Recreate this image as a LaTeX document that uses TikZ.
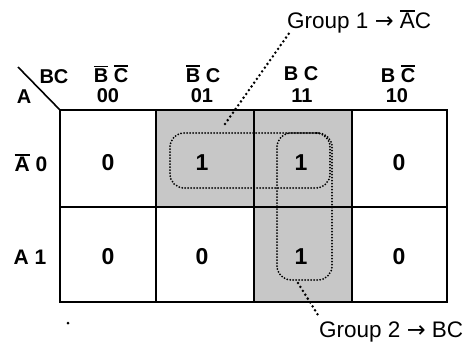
\documentclass[tikz,border=0pt]{standalone}
\usepackage{fontspec}
\setmainfont{Liberation Sans}
\newfontfamily\arrfont{DejaVu Sans}
\newcommand\ovl[1]{\setbox0\hbox{#1}\rlap{\rule[\dimexpr\ht0+1.6pt\relax]{\wd0}{1.5pt}}\box0\relax}
\newcommand\arr{{\arrfont →}}
\begin{document}
\begin{tikzpicture}[x=1pt,y=-1pt,
  lbl/.style={font=\bfseries\fontsize{20}{22}\selectfont, inner sep=0pt},
  cellv/.style={font=\bfseries\fontsize{23}{25}\selectfont, inner sep=0pt},
  grp/.style={font=\fontsize{22.5}{24}\selectfont, inner sep=0pt},
  loop/.style={draw, rounded corners=14pt, line width=2pt, dash pattern=on 0pt off 3pt, line cap=round, inner sep=0pt},
  leader/.style={line width=2.8pt, dash pattern=on 0pt off 4.6pt, line cap=round},
  shade/.style={fill=black!22}]
\useasboundingbox (0,0) rectangle (475,348);
% shading
\fill[shade] (156,110) rectangle (254,207);
\fill[shade] (254,110) rectangle (352,302);
% grid
\draw[line width=1.8pt] (60,207) -- (447,207);
\draw[line width=1.8pt] (156,110) -- (156,302);
\draw[line width=1.8pt] (254,110) -- (254,302);
\draw[line width=1.8pt] (352,110) -- (352,302);
\draw[line width=2.6pt] (156,110) -- (352,110) (352,110) -- (352,302) (254,302) -- (352,302);
\draw[line width=2.6pt] (60,110) rectangle (447,302);
\draw[line width=1.6pt] (18,67) -- (60,110);
% corner labels
\node[lbl] (bc) at (54,77) {BC};
\node[lbl] (a) at (24,97) {A};
% column headers
\node[lbl] (h1) at (111,74) {\ovl{B} \ovl{C}};
\node[lbl] (n1) at (108,96) {00};
\node[lbl] (h2) at (203,74) {\ovl{B} C};
\node[lbl] (n2) at (202,96) {01};
\node[lbl] (h3) at (301,74) {B C};
\node[lbl] (n3) at (302,96) {11};
\node[lbl] (h4) at (398,74) {B \ovl{C}};
\node[lbl] (n4) at (397,96) {10};
% row headers
\node[lbl, font=\bfseries\fontsize{21}{23}\selectfont] (r0) at (31,163) {\ovl{A} 0};
\node[lbl, font=\bfseries\fontsize{21}{23}\selectfont] (r1) at (30,257) {A 1};
% cells
\node[cellv] (c00) at (108,163) {0};
\node[cellv] (c01) at (202,163) {1};
\node[cellv] (c11) at (301,163) {1};
\node[cellv] (c10) at (399,163) {0};
\node[cellv] (d00) at (108,257) {0};
\node[cellv] (d01) at (202,257) {0};
\node[cellv] (d11) at (301,257) {1};
\node[cellv] (d10) at (399,257) {0};
% groups
\node[loop, minimum width=160pt, minimum height=55pt] (g1) at (250,160.5) {};
\node[loop, minimum width=55pt, minimum height=147pt] (g2) at (304.5,206.5) {};
% labels
\node[grp, anchor=west] (t1) at (287,22) {Group 1 \arr{} \ovl{A}C};
\node[grp, anchor=west] (t2) at (319,332) {Group 2 \arr{} BC};
\coordinate (l1) at (225,124);
\coordinate (l2) at (298,283);
\coordinate (e1) at (290,32);
\coordinate (e2) at (318,315);
\draw[leader] (l1) -- (e1);
\draw[leader] (l2) -- (e2);
\fill (68,323) circle (1.5pt);
\end{tikzpicture}
\end{document}
